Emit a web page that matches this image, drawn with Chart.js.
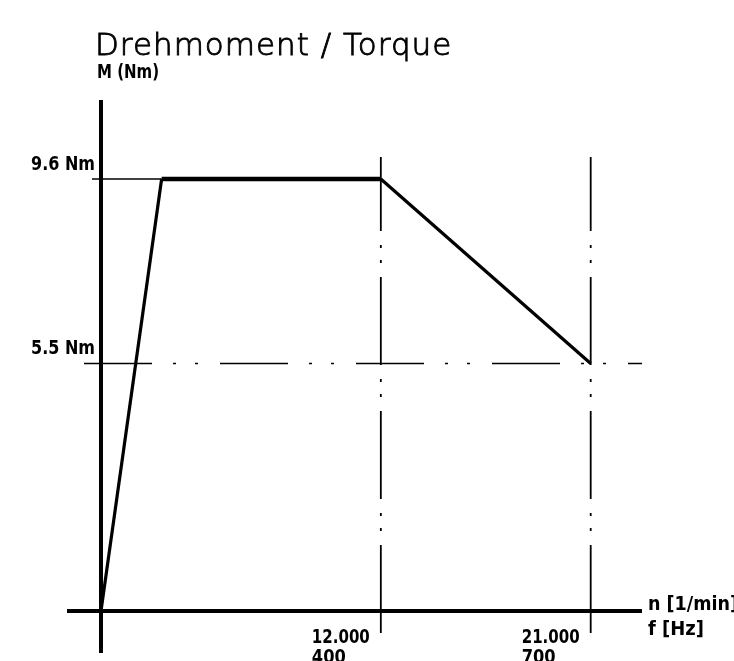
<!DOCTYPE html>
<html>
<head>
<meta charset="utf-8">
<script src="https://cdn.jsdelivr.net/npm/chart.js@4.4.1/dist/chart.umd.min.js"></script>
<style>
  html, body { margin: 0; padding: 0; background: #fff; }
  canvas { display: block; }
</style>
</head>
<body>
<canvas id="torqueChart" width="734" height="661"></canvas>
<script>
// torque curve (speed in 1/min, torque in Nm)
var speedRpm = [0, 2600, 12000, 21000];
var torqueNm = [0, 9.6, 9.6, 5.5];

// marked reference values
var refSpeeds = [12000, 21000];
var refSpeedLabels = ['12.000', '21.000'];
var refFreqLabels = ['400', '700'];
var refTorques = [9.6, 5.5];
var refTorqueLabels = ['9.6 Nm', '5.5 Nm'];

var titleText = 'Drehmoment / Torque';
var yAxisLabel = 'M (Nm)';
var xAxisLabels = ['n [1/min]', 'f [Hz]'];

var boldFont = "bold 20px 'DejaVu Sans Condensed', 'DejaVu Sans'";

function line(ctx, x1, y1, x2, y2) {
    ctx.beginPath();
    ctx.moveTo(x1, y1);
    ctx.lineTo(x2, y2);
    ctx.stroke();
}

var drawingPlugin = {
    id: 'drawing',
    beforeDatasetsDraw: function(chart) {
        var ctx = chart.ctx;
        var area = chart.chartArea;
        var xs = chart.scales.x, ys = chart.scales.y;
        var x0 = xs.getPixelForValue(0);
        var y0 = ys.getPixelForValue(0);
        var yTop = ys.getPixelForValue(refTorques[0]);

        ctx.save();
        ctx.strokeStyle = '#000';
        ctx.lineCap = 'butt';

        // thick axes
        ctx.lineWidth = 4;
        line(ctx, area.left, y0, area.right, y0);
        line(ctx, x0, area.top, x0, area.bottom);

        // 9.6 Nm: thin solid up to the knee
        var kneeX = xs.getPixelForValue(speedRpm[torqueNm.indexOf(refTorques[0])]);
        ctx.lineWidth = 1.5;
        line(ctx, x0 - 9, yTop, kneeX, yTop);

        // 5.5 Nm: dash-dot
        var yLow = ys.getPixelForValue(refTorques[1]);
        ctx.setLineDash([68, 21, 3, 19, 3, 22]);
        line(ctx, x0 - 17, yLow, area.right, yLow);

        // vertical dash-dot lines, drawn bottom to top
        ctx.lineWidth = 1.8;
        ctx.setLineDash([88, 14, 3, 12, 3, 14]);
        refSpeeds.forEach(function(s) {
            var x = xs.getPixelForValue(s);
            line(ctx, x, y0 + 22, x, yTop - 22);
        });
        ctx.restore();
    },
    afterDraw: function(chart) {
        var ctx = chart.ctx;
        var area = chart.chartArea;
        var xs = chart.scales.x, ys = chart.scales.y;
        var x0 = xs.getPixelForValue(0);
        var y0 = ys.getPixelForValue(0);

        ctx.save();
        ctx.fillStyle = '#000';
        ctx.strokeStyle = '#000';
        ctx.textBaseline = 'alphabetic';

        // title: thin font, thickened with a light stroke
        ctx.font = "200 31px 'DejaVu Sans'";
        ctx.textAlign = 'left';
        ctx.letterSpacing = '1px';
        ctx.lineWidth = 0.9;
        ctx.fillText(titleText, 95, 55);
        ctx.strokeText(titleText, 95, 55);
        ctx.letterSpacing = '0px';

        ctx.font = boldFont;
        ctx.fillText(yAxisLabel, 97, 78, 62);

        // torque labels
        ctx.textAlign = 'right';
        refTorques.forEach(function(t, i) {
            ctx.fillText(refTorqueLabels[i], x0 - 6, ys.getPixelForValue(t) - 9, 64);
        });

        // speed / frequency labels
        ctx.textAlign = 'left';
        refSpeeds.forEach(function(s, i) {
            var x = xs.getPixelForValue(s);
            var w = Math.min(ctx.measureText(refSpeedLabels[i]).width, 58);
            var left = x - 11 - w;
            ctx.fillText(refSpeedLabels[i], left, y0 + 32, 58);
            ctx.fillText(refFreqLabels[i], left, y0 + 52, 34);
        });

        // x axis unit labels
        ctx.fillText(xAxisLabels[0], area.right + 6, y0 - 1, 90);
        ctx.fillText(xAxisLabels[1], area.right + 6, y0 + 24, 56);
        ctx.restore();
    }
};

var ctx = document.getElementById('torqueChart').getContext('2d');
var torqueChart = new Chart(ctx, {
    type: 'line',
    data: {
        datasets: [{
            data: speedRpm.map(function(s, i) { return { x: s, y: torqueNm[i] }; }),
            borderColor: '#000',
            borderWidth: 3.5,
            pointRadius: 0,
            tension: 0,
            fill: false,
            segment: {
                borderWidth: function(c) { return c.p0.parsed.y === c.p1.parsed.y ? 4.5 : 3.2; }
            }
        }]
    },
    options: {
        responsive: false,
        animation: false,
        layout: { padding: { left: 67, right: 92, top: 100, bottom: 8 } },
        plugins: {
            legend: { display: false },
            tooltip: { enabled: false }
        },
        scales: {
            x: { type: 'linear', min: -1458, max: 23200, display: false },
            y: { type: 'linear', min: -0.933, max: 11.355, display: false }
        }
    },
    plugins: [drawingPlugin]
});
</script>
</body>
</html>
